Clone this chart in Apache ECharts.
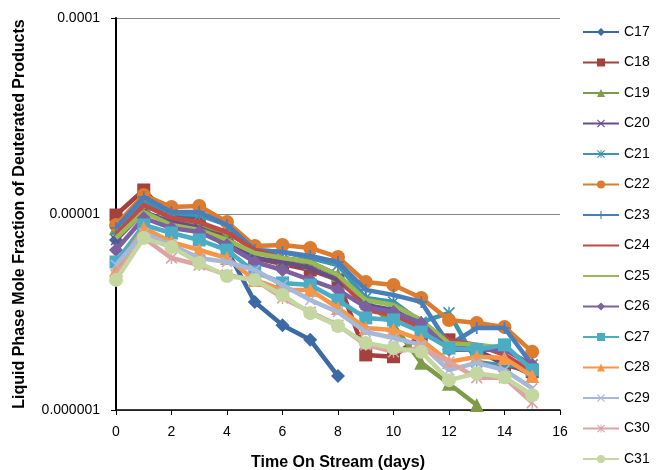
<!DOCTYPE html>
<html>
<head>
<meta charset="utf-8">
<script src="https://cdn.jsdelivr.net/npm/echarts@6/dist/echarts.min.js"></script>
<style>
  html, body { margin: 0; padding: 0; background: #fff; }
  #chart { width: 662px; height: 470px; }
</style>
</head>
<body>
<div id="chart"></div>
<script>
// Time on stream, days
const days = [0, 1, 2, 3, 4, 5, 6, 7, 8, 9, 10, 11, 12, 13, 14, 15];

// Liquid phase mole fraction of deuterated products, in units of 1e-6
const c17 = [7.37, 11.79, 9.88, 9.54, 6.55, 3.56, 2.71, 2.28, 1.49];
const c18 = [9.88, 13.26, 9.54, 9.10, 7.54, 5.96, 5.56, 5.18, 4.61, 1.91, 1.87, 2.41, 2.28, 2.03, 1.70, 1.57];
const c19 = [8.48, 11.11, 9.54, 8.79, 8.09, 6.55, 5.82, 5.62, 4.88, 3.64, 2.71, 1.74, 1.36, 1.06];
const c20 = [7.37, 10.24, 9.10, 8.48, 7.37, 5.96, 5.69, 5.30, 4.61, 3.43, 3.24, 2.71, 2.15, 1.98, 1.76, 1.51];
const c21 = [8.29, 11.79, 10.12, 9.88, 8.79, 6.55, 6.40, 5.96, 5.49, 3.73, 3.56, 2.81, 3.13, 1.76, 1.68, 1.70];
const c22 = [8.79, 12.50, 10.86, 10.99, 9.10, 6.87, 6.95, 6.71, 6.03, 4.50, 4.34, 3.73, 2.88, 2.78, 2.65, 1.98];
const c23 = [8.48, 12.21, 10.24, 10.24, 8.79, 6.55, 6.40, 6.11, 5.69, 4.10, 3.86, 3.56, 2.15, 2.62, 2.62, 1.70];
const c24 = [7.81, 11.11, 9.54, 9.10, 8.09, 6.55, 5.96, 5.69, 4.88, 3.24, 3.05, 2.62, 2.28, 2.15, 1.91, 1.57];
const c25 = [7.54, 10.24, 8.79, 8.29, 7.37, 6.32, 5.96, 5.69, 4.88, 3.64, 3.43, 2.88, 2.19, 2.15, 2.07, 1.66];
const c26 = [6.55, 9.54, 8.48, 8.09, 6.95, 5.69, 5.18, 4.61, 4.10, 3.35, 3.16, 2.78, 2.03, 2.03, 2.03, 1.70];
const c27 = [5.69, 8.79, 8.00, 7.37, 6.55, 5.06, 4.45, 4.34, 3.64, 2.95, 2.88, 2.50, 2.07, 2.03, 2.15, 1.60];
const c28 = [5.18, 8.48, 7.19, 6.55, 5.96, 4.61, 4.10, 4.10, 3.31, 2.62, 2.56, 2.28, 1.76, 1.87, 1.84, 1.49];
const c29 = [5.49, 8.00, 6.95, 5.96, 5.69, 5.18, 4.34, 3.64, 3.16, 2.50, 2.33, 2.15, 1.60, 1.74, 1.60, 1.29];
const c30 = [4.88, 7.54, 5.96, 5.49, 4.88, 4.61, 3.73, 3.16, 2.71, 2.15, 1.98, 2.07, 1.76, 1.46, 1.46, 1.09];
const c31 = [4.61, 7.54, 6.79, 5.62, 4.83, 4.61, 3.86, 3.12, 2.68, 2.20, 2.07, 1.98, 1.42, 1.54, 1.47, 1.19];

const seriesNames = ['C17', 'C18', 'C19', 'C20', 'C21', 'C22', 'C23', 'C24',
                     'C25', 'C26', 'C27', 'C28', 'C29', 'C30', 'C31'];
const seriesValues = [c17, c18, c19, c20, c21, c22, c23, c24, c25, c26, c27, c28, c29, c30, c31];

// Y-axis tick labels, one per decade from 1e-6 upward
const yTickLabels = ['0.000001', '0.00001', '0.0001'];
const xTickStep = 2;

// Marker shapes
const X_PATH = 'path://M0,1 L1,0 L10,9 L9,10 Z M9,0 L10,1 L1,10 L0,9 Z';
const STAR_PATH = 'path://M0,1 L1,0 L10,9 L9,10 Z M9,0 L10,1 L1,10 L0,9 Z M4.4,0 L5.6,0 L5.6,10 L4.4,10 Z';
const PLUS_PATH = 'path://M0,4.3 L10,4.3 L10,5.7 L0,5.7 Z M4.3,0 L5.7,0 L5.7,10 L4.3,10 Z';

const styles = [
  { color: '#3C6AA5', symbol: 'diamond', size: 14 },
  { color: '#A4403D', symbol: 'rect', size: 13 },
  { color: '#7D9C47', symbol: 'triangle', size: 14 },
  { color: '#664E8A', symbol: X_PATH, size: 11 },
  { color: '#3B96AF', symbol: STAR_PATH, size: 12 },
  { color: '#DD7B2E', symbol: 'circle', size: 14 },
  { color: '#4A7EBB', symbol: PLUS_PATH, size: 12 },
  { color: '#BE4B48', symbol: 'none', size: 0 },
  { color: '#98B954', symbol: 'none', size: 0 },
  { color: '#7D60A0', symbol: 'diamond', size: 14 },
  { color: '#4BACC6', symbol: 'rect', size: 13 },
  { color: '#F79646', symbol: 'triangle', size: 14 },
  { color: '#A7B9DA', symbol: X_PATH, size: 11 },
  { color: '#DCA5A4', symbol: STAR_PATH, size: 12 },
  { color: '#C4D7A1', symbol: 'circle', size: 14 }
];

const series = seriesNames.map((name, i) => ({
  name: name,
  type: 'line',
  data: seriesValues[i].map((v, j) => [days[j], v * 1e-6]),
  symbol: styles[i].symbol,
  symbolSize: styles[i].size,
  showSymbol: styles[i].symbol !== 'none',
  lineStyle: { color: styles[i].color, width: 4.5 },
  itemStyle: { color: styles[i].color, borderWidth: 0 },
  emphasis: { disabled: true },
  animation: false,
  z: 2 + i
}));

// Legend entries: series drawn without markers show only their line
const legendData = seriesNames.map((name, i) =>
  styles[i].symbol === 'none'
    ? { name: name, itemStyle: { color: 'rgba(0,0,0,0)', borderWidth: 0 } }
    : { name: name }
);

const chart = echarts.init(document.getElementById('chart'), null, { renderer: 'canvas' });

chart.setOption({
  backgroundColor: '#fff',
  animation: false,
  textStyle: { fontFamily: 'Liberation Sans' },
  grid: {
    left: 116, right: 102, top: 18, bottom: 60,
    containLabel: false,
    outerBoundsMode: 'none'
  },
  legend: {
    orient: 'vertical',
    left: 582,
    top: 25,
    padding: 0,
    itemWidth: 36,
    itemHeight: 10,
    itemGap: 16.5,
    data: legendData,
    textStyle: { fontSize: 14, color: '#000', fontFamily: 'Liberation Sans' },
    selectedMode: false
  },
  xAxis: {
    type: 'value',
    min: 0,
    max: 16,
    interval: xTickStep,
    name: 'Time On Stream (days)',
    nameLocation: 'middle',
    nameGap: 45,
    nameTextStyle: { fontSize: 16, fontWeight: 'bold', color: '#000' },
    axisLine: { lineStyle: { color: '#000', width: 1.5 } },
    axisTick: { show: true, length: 5, lineStyle: { color: '#000' } },
    axisLabel: { fontSize: 14, color: '#000', margin: 15 },
    splitLine: { show: false }
  },
  yAxis: {
    type: 'log',
    logBase: 10,
    min: 1e-6,
    max: 1e-4,
    name: 'Liquid Phase Mole Fraction of Deuterated Products',
    nameLocation: 'middle',
    nameGap: 88,
    nameTextStyle: { fontSize: 16, fontWeight: 'bold', color: '#000' },
    axisLine: { show: true, lineStyle: { color: '#000', width: 2 } },
    axisTick: { show: true, length: 5, lineStyle: { color: '#000' } },
    axisLabel: {
      fontSize: 14,
      color: '#000',
      margin: 16,
      formatter: function (v) {
        const k = Math.round(Math.log10(v)) + 6;
        return yTickLabels[k] !== undefined ? yTickLabels[k] : '';
      }
    },
    splitLine: { show: true, lineStyle: { color: '#868686', width: 1 } }
  },
  series: series
});
</script>
</body>
</html>
